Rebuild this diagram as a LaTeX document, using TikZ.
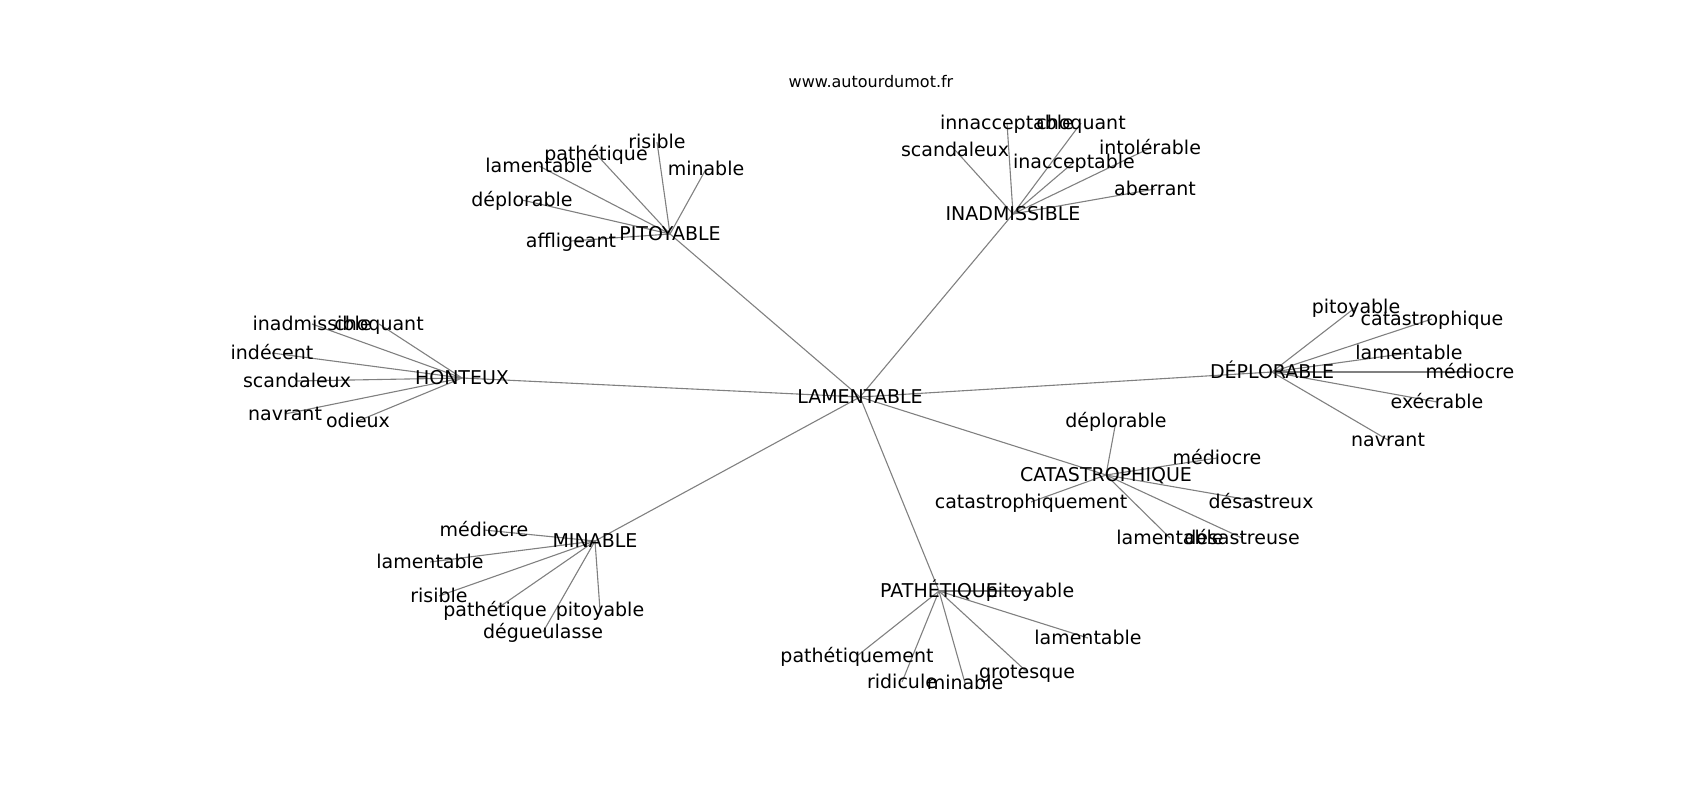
\documentclass[tikz,border=0pt]{standalone}
\usepackage{fontspec}
\setmainfont{DejaVu Sans}
\pgfdeclarelayer{background}
\pgfsetlayers{background,main}
\tikzset{
  lbl/.style={inner sep=0pt, text height=1.2em, text depth=0em, font=\fontsize{19}{20}\selectfont, text=black},
  ttl/.style={inner sep=0pt, text height=1.15em, text depth=0em, font=\fontsize{16}{18}\selectfont, text=black},
  edge/.style={draw=black!50, line width=1.1pt}
}
\begin{document}
\begin{tikzpicture}[x=1pt,y=-1pt]
\useasboundingbox (0,0) rectangle (1700,800);
\node[ttl] (title) at (871,82) {www.autourdumot.fr};
% centre and hubs
\node[lbl] (L) at (860,397) {LAMENTABLE};
\node[lbl] (P) at (670,234) {PITOYABLE};
\node[lbl] (I) at (1013,214) {INADMISSIBLE};
\node[lbl] (H) at (462,378) {HONTEUX};
\node[lbl] (D) at (1272,372) {DÉPLORABLE};
\node[lbl] (C) at (1106,475) {CATASTROPHIQUE};
\node[lbl] (M) at (595,541) {MINABLE};
\node[lbl] (Pa) at (939,591) {PATHÉTIQUE};
% PITOYABLE leaves
\node[lbl] (p1) at (657,142) {risible};
\node[lbl] (p2) at (596,154) {pathétique};
\node[lbl] (p3) at (539,166) {lamentable};
\node[lbl] (p4) at (706,169) {minable};
\node[lbl] (p5) at (522,200) {déplorable};
\node[lbl] (p6) at (571,241) {affligeant};
% INADMISSIBLE leaves
\node[lbl] (i1) at (1007,123) {innacceptable};
\node[lbl] (i2) at (1081,123) {choquant};
\node[lbl] (i3) at (955,150) {scandaleux};
\node[lbl] (i4) at (1150,148) {intolérable};
\node[lbl] (i5) at (1074,162) {inacceptable};
\node[lbl] (i6) at (1155,189) {aberrant};
% HONTEUX leaves
\node[lbl] (h1) at (312,324) {inadmissible};
\node[lbl] (h2) at (379,324) {choquant};
\node[lbl] (h3) at (272,353) {indécent};
\node[lbl] (h4) at (297,381) {scandaleux};
\node[lbl] (h5) at (285,414) {navrant};
\node[lbl] (h6) at (358,421) {odieux};
% DEPLORABLE leaves
\node[lbl] (d1) at (1356,307) {pitoyable};
\node[lbl] (d2) at (1432,319) {catastrophique};
\node[lbl] (d3) at (1409,353) {lamentable};
\node[lbl] (d4) at (1470,372) {médiocre};
\node[lbl] (d5) at (1437,402) {exécrable};
\node[lbl] (d6) at (1388,440) {navrant};
% CATASTROPHIQUE leaves
\node[lbl] (c1) at (1116,421) {déplorable};
\node[lbl] (c2) at (1217,458) {médiocre};
\node[lbl] (c3) at (1031,502) {catastrophiquement};
\node[lbl] (c4) at (1261,502) {désastreux};
\node[lbl] (c5) at (1170,538) {lamentable};
\node[lbl] (c6) at (1242,538) {désastreuse};
% MINABLE leaves
\node[lbl] (m1) at (484,530) {médiocre};
\node[lbl] (m2) at (430,562) {lamentable};
\node[lbl] (m3) at (439,596) {risible};
\node[lbl] (m4) at (495,610) {pathétique};
\node[lbl] (m5) at (600,610) {pitoyable};
\node[lbl] (m6) at (543,632) {dégueulasse};
% PATHETIQUE leaves
\node[lbl] (a1) at (1030,591) {pitoyable};
\node[lbl] (a2) at (1088,638) {lamentable};
\node[lbl] (a3) at (857,656) {pathétiquement};
\node[lbl] (a4) at (902,682) {ridicule};
\node[lbl] (a5) at (965,683) {minable};
\node[lbl] (a6) at (1027,672) {grotesque};
\begin{pgfonlayer}{background}
\foreach \h in {P,I,H,D,C,M,Pa}{\draw[edge] (L.center) -- (\h.center);}
\foreach \l in {p1,p2,p3,p4,p5,p6}{\draw[edge] (P.center) -- (\l.center);}
\foreach \l in {i1,i2,i3,i4,i5,i6}{\draw[edge] (I.center) -- (\l.center);}
\foreach \l in {h1,h2,h3,h4,h5,h6}{\draw[edge] (H.center) -- (\l.center);}
\foreach \l in {d1,d2,d3,d4,d5,d6}{\draw[edge] (D.center) -- (\l.center);}
\foreach \l in {c1,c2,c3,c4,c5,c6}{\draw[edge] (C.center) -- (\l.center);}
\foreach \l in {m1,m2,m3,m4,m5,m6}{\draw[edge] (M.center) -- (\l.center);}
\foreach \l in {a1,a2,a3,a4,a5,a6}{\draw[edge] (Pa.center) -- (\l.center);}
\end{pgfonlayer}
\end{tikzpicture}
\end{document}
